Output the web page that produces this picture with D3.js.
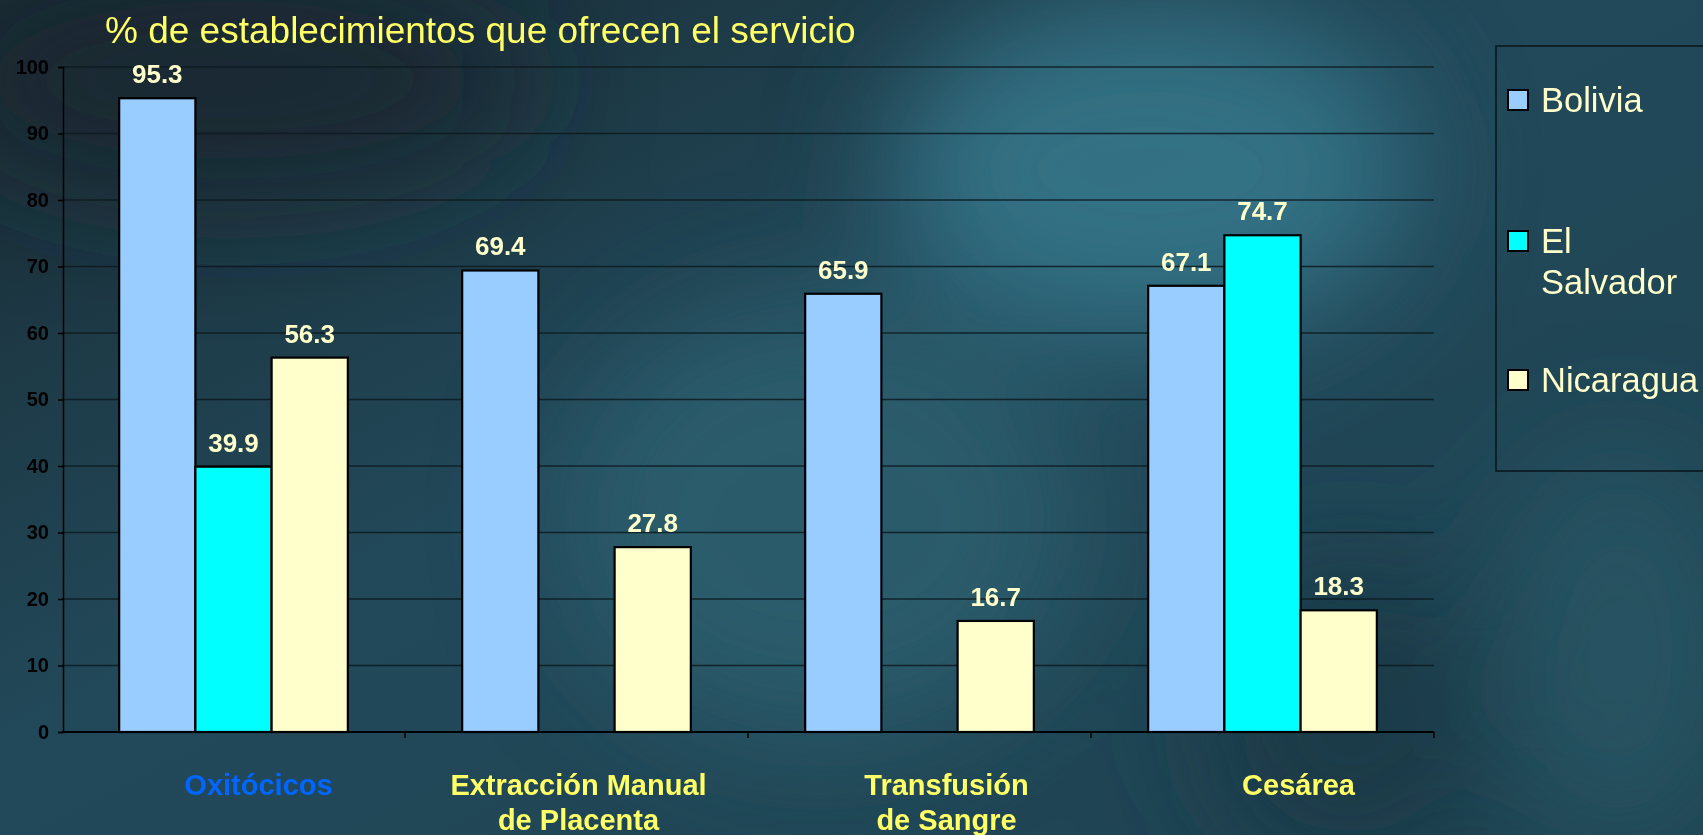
<!DOCTYPE html>
<html>
<head>
<meta charset="utf-8">
<script src="https://cdn.jsdelivr.net/npm/d3@7"></script>
<style>
  html, body { margin: 0; padding: 0; background: #1f4450; overflow: hidden; }
  svg { display: block; font-family: "Liberation Sans", Arial, sans-serif; }
</style>
</head>
<body>
<div id="chart"></div>
<script>
"use strict"

// data
const categories = ["Oxitócicos", "Extracción Manual|de Placenta", "Transfusión|de Sangre", "Cesárea"];
const series = ["Bolivia", "El Salvador", "Nicaragua"];
const bolivia = [95.3, 69.4, 65.9, 67.1];
const elSalvador = [39.9, null, null, 74.7];
const nicaragua = [56.3, 27.8, 16.7, 18.3];
const yTicks = [0, 10, 20, 30, 40, 50, 60, 70, 80, 90, 100];
const title = "% de establecimientos que ofrecen el servicio";

const W = 1703, H = 835;
const plot = {left: 62, right: 1434, top: 67, bottom: 732};
const colors = {"Bolivia": "#99ccff", "El Salvador": "#00ffff", "Nicaragua": "#ffffcc"};
const labelDx = [25, 2, 27, 36];

const svg = d3.select("#chart").append("svg")
  .attr("width", W)
  .attr("height", H);

// background
const defs = svg.append("defs");
const blur = defs.append("filter").attr("id", "blur")
  .attr("x", "-50%").attr("y", "-50%").attr("width", "200%").attr("height", "200%");
blur.append("feGaussianBlur").attr("stdDeviation", 60);

const bgGrad = defs.append("linearGradient").attr("id", "bg")
  .attr("x1", 0).attr("y1", 0).attr("x2", 1).attr("y2", 1);
bgGrad.append("stop").attr("offset", "0%").attr("stop-color", "#192b33");
bgGrad.append("stop").attr("offset", "45%").attr("stop-color", "#22495a");
bgGrad.append("stop").attr("offset", "100%").attr("stop-color", "#1f4452");

svg.append("rect").attr("width", W).attr("height", H).attr("fill", "url(#bg)");

const glow = svg.append("g").attr("filter", "url(#blur)");
glow.append("ellipse").attr("cx", 1150).attr("cy", 170).attr("rx", 260).attr("ry", 170)
  .attr("fill", "#35788c").attr("opacity", 0.85);
glow.append("ellipse").attr("cx", 820).attr("cy", 520).attr("rx", 260).attr("ry", 220)
  .attr("fill", "#2c6474").attr("opacity", 0.7);
glow.append("ellipse").attr("cx", 230).attr("cy", 80).attr("rx", 300).attr("ry", 120)
  .attr("fill", "#162630").attr("opacity", 0.8);
glow.append("ellipse").attr("cx", 1350).attr("cy", 720).attr("rx", 150).attr("ry", 160)
  .attr("fill", "#1a3a46").attr("opacity", 0.8);
glow.append("ellipse").attr("cx", 1620).attr("cy", 650).attr("rx", 120).attr("ry", 200)
  .attr("fill", "#2a5a68").attr("opacity", 0.7);

// scales
const x0 = d3.scaleBand()
  .domain(categories)
  .range([plot.left, plot.right]);

const bw = x0.bandwidth();
const x1 = d3.scaleBand()
  .domain(series)
  .range([bw / 6, bw * 5 / 6]);

const y = d3.scaleLinear()
  .domain([0, 100])
  .range([plot.bottom, plot.top]);

// gridlines
svg.append("g")
  .selectAll("line")
  .data(yTicks.filter(d => d > 0))
  .join("line")
    .attr("x1", plot.left)
    .attr("x2", plot.right)
    .attr("y1", d => y(d))
    .attr("y2", d => y(d))
    .attr("stroke", "#0d1a1f")
    .attr("stroke-opacity", 0.85)
    .attr("stroke-width", 1.6);

// y axis
const yAxis = svg.append("g")
  .attr("transform", "translate(" + (plot.left + 1) + ",0)")
  .call(d3.axisLeft(y).tickValues(yTicks).tickSize(5).tickPadding(9));
yAxis.select(".domain").attr("stroke", "#000").attr("stroke-width", 1.5);
yAxis.selectAll(".tick line").attr("stroke", "#000").attr("stroke-width", 1.5);
yAxis.selectAll(".tick text")
  .attr("fill", "#000")
  .style("font-size", "20px")
  .style("font-weight", "bold")
  .style("font-family", "'Liberation Sans', Arial, sans-serif");

// bars
const rows = categories.map((c, i) => ({
  cat: c,
  vals: [
    {s: "Bolivia", v: bolivia[i]},
    {s: "El Salvador", v: elSalvador[i]},
    {s: "Nicaragua", v: nicaragua[i]}
  ].filter(d => d.v !== null)
}));

const groups = svg.append("g")
  .selectAll("g")
  .data(rows)
  .join("g")
    .attr("transform", d => "translate(" + x0(d.cat) + ",0)");

groups.selectAll("rect")
  .data(d => d.vals)
  .join("rect")
    .attr("x", d => x1(d.s))
    .attr("y", d => y(d.v))
    .attr("width", x1.bandwidth())
    .attr("height", d => y(0) - y(d.v))
    .attr("fill", d => colors[d.s])
    .attr("stroke", "#000")
    .attr("stroke-width", 2.2);

groups.selectAll("text")
  .data(d => d.vals)
  .join("text")
    .attr("x", d => x1(d.s) + x1.bandwidth() / 2)
    .attr("y", d => y(d.v) - 15)
    .attr("text-anchor", "middle")
    .attr("fill", "#ffffcc")
    .style("font-size", "26px")
    .style("font-weight", "bold")
    .text(d => d.v.toFixed(1));

// x axis line and ticks
svg.append("line")
  .attr("x1", plot.left).attr("x2", plot.right)
  .attr("y1", y(0)).attr("y2", y(0))
  .attr("stroke", "#000").attr("stroke-width", 2);

svg.append("g")
  .selectAll("line")
  .data(categories.slice(1).map(c => x0(c)).concat([plot.right]))
  .join("line")
    .attr("x1", d => d).attr("x2", d => d)
    .attr("y1", y(0)).attr("y2", y(0) + 6)
    .attr("stroke", "#000").attr("stroke-width", 1.5);

// category labels
const catLabels = svg.append("g")
  .selectAll("text")
  .data(categories)
  .join("text")
    .attr("x", (d, i) => x0(d) + bw / 2 + labelDx[i])
    .attr("y", 795)
    .attr("text-anchor", "middle")
    .attr("fill", (d, i) => i === 0 ? "#0066ff" : "#ffff66")
    .style("font-size", "29px")
    .style("font-weight", "bold");

catLabels.each(function(d, i) {
  const parts = d.split("|");
  d3.select(this).selectAll("tspan")
    .data(parts)
    .join("tspan")
      .attr("x", x0(d) + bw / 2 + labelDx[i])
      .attr("dy", (p, j) => j === 0 ? 0 : 35)
      .text(p => p);
});

// title
svg.append("text")
  .attr("x", 105)
  .attr("y", 43)
  .attr("fill", "#ffff66")
  .style("font-size", "37px")
  .text(title);

// legend
const legend = svg.append("g");
legend.append("rect")
  .attr("x", 1496).attr("y", 46)
  .attr("width", 230).attr("height", 425)
  .attr("fill", "none")
  .attr("stroke", "#0a1418")
  .attr("stroke-width", 1.5);

const legendRows = [
  {s: "Bolivia", lines: ["Bolivia"], y: 100},
  {s: "El Salvador", lines: ["El", "Salvador"], y: 241},
  {s: "Nicaragua", lines: ["Nicaragua"], y: 380}
];

const li = legend.selectAll("g.item")
  .data(legendRows)
  .join("g")
    .attr("class", "item")
    .attr("transform", d => "translate(1507," + d.y + ")");

li.append("rect")
  .attr("x", 1).attr("y", -10)
  .attr("width", 20).attr("height", 20)
  .attr("fill", d => colors[d.s])
  .attr("stroke", "#000")
  .attr("stroke-width", 2);

li.append("text")
  .attr("x", 34)
  .attr("y", 12)
  .attr("fill", "#ffffcc")
  .style("font-size", "34.5px")
  .selectAll("tspan")
  .data(d => d.lines)
  .join("tspan")
    .attr("x", 34)
    .attr("dy", (p, j) => j === 0 ? 0 : 41)
    .text(p => p);
</script>
</body>
</html>
